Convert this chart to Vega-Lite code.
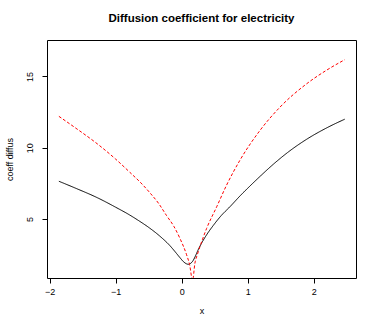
{
  "$schema": "https://vega.github.io/schema/vega-lite/v6.json",
  "autosize": "none",
  "width": 309,
  "height": 238,
  "padding": {"left": 47, "top": 40, "right": 26, "bottom": 49},
  "background": "white",
  "title": {"text": "Diffusion coefficient for electricity", "font": "Liberation Sans", "fontSize": 11.5, "fontWeight": "bold", "color": "black", "anchor": "middle", "offset": 16},
  "config": {
    "view": {"stroke": "black", "strokeWidth": 1},
    "axis": {"labelFont": "Liberation Sans", "titleFont": "Liberation Sans", "labelFontSize": 9, "titleFontSize": 9, "titleFontWeight": "normal", "labelColor": "black", "titleColor": "black", "tickColor": "black", "domain": false, "grid": false, "tickSize": 5}
  },
  "data": {"values": [
    {"x": -1.86, "y": 7.65, "s": "black"},
    {"x": -1.6, "y": 7.15, "s": "black"},
    {"x": -1.27, "y": 6.48, "s": "black"},
    {"x": -1.0, "y": 5.83, "s": "black"},
    {"x": -0.786, "y": 5.28, "s": "black"},
    {"x": -0.675, "y": 4.96, "s": "black"},
    {"x": -0.483, "y": 4.36, "s": "black"},
    {"x": -0.33, "y": 3.8, "s": "black"},
    {"x": -0.179, "y": 3.14, "s": "black"},
    {"x": -0.08, "y": 2.6, "s": "black"},
    {"x": -0.027, "y": 2.3, "s": "black"},
    {"x": 0.03, "y": 2.0, "s": "black"},
    {"x": 0.07, "y": 1.87, "s": "black"},
    {"x": 0.1, "y": 1.83, "s": "black"},
    {"x": 0.13, "y": 1.88, "s": "black"},
    {"x": 0.17, "y": 2.07, "s": "black"},
    {"x": 0.2, "y": 2.33, "s": "black"},
    {"x": 0.25, "y": 2.85, "s": "black"},
    {"x": 0.3, "y": 3.3, "s": "black"},
    {"x": 0.378, "y": 3.9, "s": "black"},
    {"x": 0.478, "y": 4.55, "s": "black"},
    {"x": 0.6, "y": 5.25, "s": "black"},
    {"x": 0.73, "y": 5.86, "s": "black"},
    {"x": 0.883, "y": 6.62, "s": "black"},
    {"x": 1.035, "y": 7.32, "s": "black"},
    {"x": 1.2, "y": 8.05, "s": "black"},
    {"x": 1.39, "y": 8.85, "s": "black"},
    {"x": 1.6, "y": 9.65, "s": "black"},
    {"x": 1.895, "y": 10.6, "s": "black"},
    {"x": 2.2, "y": 11.4, "s": "black"},
    {"x": 2.47, "y": 12.0, "s": "black"},
    {"x": -1.86, "y": 12.2, "s": "red"},
    {"x": -1.6, "y": 11.36, "s": "red"},
    {"x": -1.272, "y": 10.25, "s": "red"},
    {"x": -1.0, "y": 9.2, "s": "red"},
    {"x": -0.786, "y": 8.28, "s": "red"},
    {"x": -0.6, "y": 7.45, "s": "red"},
    {"x": -0.483, "y": 6.85, "s": "red"},
    {"x": -0.35, "y": 6.1, "s": "red"},
    {"x": -0.23, "y": 5.25, "s": "red"},
    {"x": -0.12, "y": 4.5, "s": "red"},
    {"x": -0.027, "y": 3.65, "s": "red"},
    {"x": 0.074, "y": 2.5, "s": "red"},
    {"x": 0.12, "y": 1.8, "s": "red"},
    {"x": 0.165, "y": 0.7, "s": "red"},
    {"x": 0.2, "y": 1.9, "s": "red"},
    {"x": 0.24, "y": 2.55, "s": "red"},
    {"x": 0.276, "y": 3.06, "s": "red"},
    {"x": 0.378, "y": 4.35, "s": "red"},
    {"x": 0.53, "y": 5.86, "s": "red"},
    {"x": 0.68, "y": 7.38, "s": "red"},
    {"x": 0.883, "y": 9.13, "s": "red"},
    {"x": 1.187, "y": 11.22, "s": "red"},
    {"x": 1.49, "y": 12.85, "s": "red"},
    {"x": 1.895, "y": 14.49, "s": "red"},
    {"x": 2.2, "y": 15.45, "s": "red"},
    {"x": 2.47, "y": 16.17, "s": "red"}
  ]},
  "mark": {"type": "line", "clip": true, "strokeWidth": 1, "interpolate": "monotone"},
  "encoding": {
    "x": {"field": "x", "type": "quantitative", "scale": {"domain": [-2.04, 2.64], "nice": false, "zero": false}, "axis": {"values": [-2, -1, 0, 1, 2], "title": "x", "labelPadding": 4, "titlePadding": 10}},
    "y": {"field": "y", "type": "quantitative", "scale": {"domain": [0.87, 17.55], "nice": false, "zero": false}, "axis": {"values": [5, 10, 15], "title": "coeff diffus", "labelAngle": -90, "labelAlign": "center", "labelBaseline": "bottom", "labelPadding": 8, "titlePadding": 11}},
    "color": {"field": "s", "type": "nominal", "scale": {"domain": ["black", "red"], "range": ["black", "red"]}, "legend": null},
    "strokeDash": {"field": "s", "type": "nominal", "scale": {"domain": ["black", "red"], "range": [[1, 0], [3, 2]]}, "legend": null}
  }
}
